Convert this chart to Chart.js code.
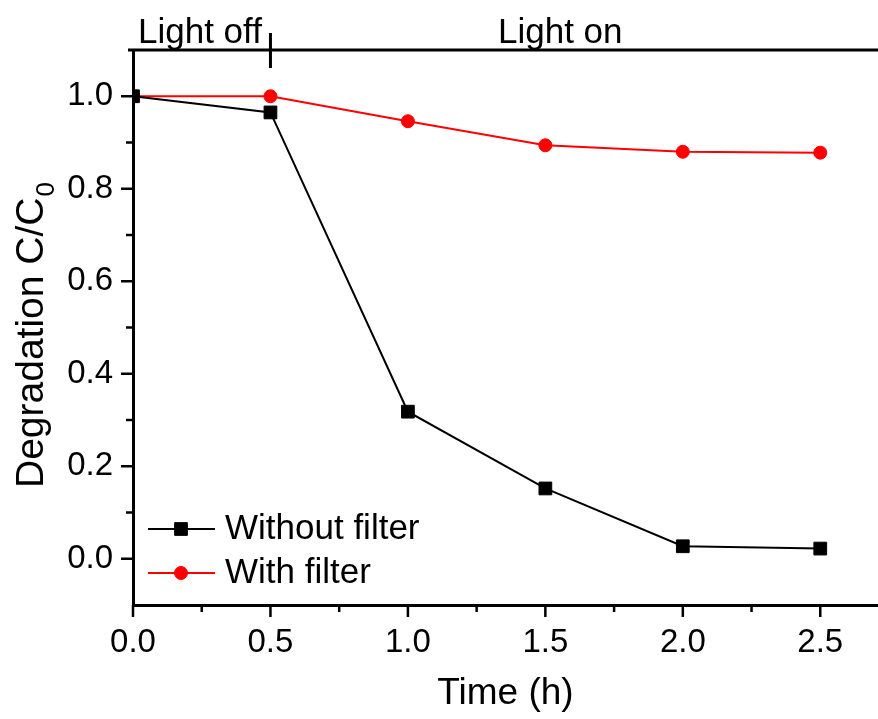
<!DOCTYPE html>
<html>
<head>
<meta charset="utf-8">
<script src="https://cdn.jsdelivr.net/npm/chart.js@4.4.1/dist/chart.umd.min.js"></script>
<style>
  html, body { margin: 0; padding: 0; background: #fff; }
</style>
</head>
<body>
<canvas id="chart" width="878" height="719"></canvas>
<script>
// data
var times = [0, 0.5, 1.0, 1.5, 2.0, 2.5];
var withoutFilter = [1.0, 0.965, 0.318, 0.152, 0.027, 0.022];
var withFilter = [1.0, 1.0, 0.946, 0.894, 0.880, 0.878];
var seriesNames = ['Without filter', 'With filter'];
var xTicks = [0, 0.5, 1.0, 1.5, 2.0, 2.5];
var yTicks = [0, 0.2, 0.4, 0.6, 0.8, 1.0];
var phaseLabels = ['Light off', 'Light on'];
var lightSwitch = 0.5;

var FONT = '"Liberation Sans", Arial, sans-serif';

function toPoints(ys) {
    return times.map(function (t, i) { return { x: t, y: ys[i] }; });
}

var decor = {
    id: 'decor',
    afterDraw: function (chart) {
        var ctx = chart.ctx;
        var area = chart.chartArea;
        var xs = chart.scales.x, ys = chart.scales.y;
        var i, p;
        ctx.save();
        ctx.strokeStyle = '#000';
        ctx.fillStyle = '#000';
        ctx.lineWidth = 2.5;

        // x ticks (major + minor), outward
        for (i = 0; i < xTicks.length; i++) {
            p = xs.getPixelForValue(xTicks[i]);
            ctx.beginPath(); ctx.moveTo(p, area.bottom); ctx.lineTo(p, area.bottom + 12); ctx.stroke();
            var m = xTicks[i] + 0.25;
            if (m < xs.max) {
                p = xs.getPixelForValue(m);
                ctx.beginPath(); ctx.moveTo(p, area.bottom); ctx.lineTo(p, area.bottom + 7); ctx.stroke();
            }
        }
        // y ticks
        for (i = 0; i < yTicks.length; i++) {
            p = ys.getPixelForValue(yTicks[i]);
            ctx.beginPath(); ctx.moveTo(area.left, p); ctx.lineTo(area.left - 12, p); ctx.stroke();
            var n = yTicks[i] + 0.1;
            if (n < ys.max - 0.01) {
                p = ys.getPixelForValue(n);
                ctx.beginPath(); ctx.moveTo(area.left, p); ctx.lineTo(area.left - 7, p); ctx.stroke();
            }
        }

        // top line with light switch marker
        ctx.lineWidth = 3;
        ctx.beginPath(); ctx.moveTo(area.left - 5, area.top); ctx.lineTo(chart.width, area.top); ctx.stroke();
        p = xs.getPixelForValue(lightSwitch);
        ctx.beginPath(); ctx.moveTo(p, area.top - 17); ctx.lineTo(p, area.top + 18); ctx.stroke();

        ctx.font = '35px ' + FONT;
        ctx.textBaseline = 'alphabetic';
        ctx.textAlign = 'left';
        ctx.fillText(phaseLabels[0], 138, 43);
        ctx.fillText(phaseLabels[1], 498, 43);

        // y axis title with subscript
        ctx.save();
        ctx.translate(43, 488);
        ctx.rotate(-Math.PI / 2);
        ctx.font = '39px ' + FONT;
        var main = 'Degradation C/C';
        ctx.fillText(main, 0, 0);
        var w = ctx.measureText(main).width;
        ctx.font = '26px ' + FONT;
        ctx.fillText('0', w + 1, 11);
        ctx.restore();

        // legend inside plot
        var rows = [529, 573];
        chart.data.datasets.forEach(function (ds, k) {
            var y = rows[k];
            ctx.strokeStyle = ds.borderColor;
            ctx.lineWidth = 2;
            ctx.beginPath(); ctx.moveTo(148, y); ctx.lineTo(215, y); ctx.stroke();
            ctx.fillStyle = ds.pointBackgroundColor;
            ctx.strokeStyle = ds.pointBorderColor;
            ctx.lineWidth = 1;
            ctx.beginPath();
            if (ds.pointStyle === 'rect') {
                var s = ds.pointRadius * Math.SQRT1_2;
                ctx.rect(181 - s, y - s, 2 * s, 2 * s);
            } else {
                ctx.arc(181, y, ds.pointRadius, 0, Math.PI * 2);
            }
            ctx.fill(); ctx.stroke();
            ctx.fillStyle = '#000';
            ctx.font = '35px ' + FONT;
            ctx.textBaseline = 'middle';
            ctx.fillText(seriesNames[k], 225, y);
        });
        ctx.restore();
    }
};

var config = {
    type: 'line',
    data: {
        datasets: [{
            label: seriesNames[0],
            data: toPoints(withoutFilter),
            borderColor: '#000000',
            backgroundColor: '#000000',
            pointBackgroundColor: '#000000',
            pointBorderColor: '#000000',
            borderWidth: 2,
            pointStyle: 'rect',
            pointRadius: 9,
            pointBorderWidth: 1,
            clip: 0
        }, {
            label: seriesNames[1],
            data: toPoints(withFilter),
            borderColor: '#ff0000',
            backgroundColor: '#ff0000',
            pointBackgroundColor: '#ff0000',
            pointBorderColor: '#ff0000',
            borderWidth: 2,
            pointStyle: 'circle',
            pointRadius: 6.5,
            pointBorderWidth: 1,
            clip: 0
        }]
    },
    options: {
        responsive: false,
        animation: false,
        // autoPadding off so point radius doesn't shrink the plot area
        layout: { autoPadding: false, padding: { top: 50, right: 0, left: 0, bottom: 0 } },
        plugins: {
            legend: { display: false },
            tooltip: { enabled: false }
        },
        scales: {
            x: {
                type: 'linear',
                min: 0,
                max: 2.71,
                afterBuildTicks: function (scale) {
                    scale.ticks = xTicks.map(function (v) { return { value: v }; });
                },
                afterFit: function (scale) {
                    scale.height = 114;
                    scale.paddingRight = 0;
                    scale.paddingLeft = 0;
                },
                grid: { drawOnChartArea: false, drawTicks: false },
                border: { color: '#000', width: 3 },
                ticks: {
                    color: '#000',
                    font: { family: FONT, size: 33 },
                    padding: 18,
                    maxRotation: 0,
                    callback: function (v) { return v.toFixed(1); }
                },
                title: {
                    display: true,
                    text: 'Time (h)',
                    color: '#000',
                    font: { family: FONT, size: 37 },
                    padding: { top: 0, bottom: 3 }
                }
            },
            y: {
                min: -0.1,
                max: 1.1,
                afterBuildTicks: function (scale) {
                    scale.ticks = yTicks.map(function (v) { return { value: v }; });
                },
                afterFit: function (scale) {
                    scale.width = 133;
                    scale.paddingTop = 0;
                    scale.paddingBottom = 0;
                },
                grid: { drawOnChartArea: false, drawTicks: false },
                border: { color: '#000', width: 3 },
                ticks: {
                    color: '#000',
                    font: { family: FONT, size: 33 },
                    padding: 20,
                    callback: function (v) { return v.toFixed(1); }
                }
            }
        }
    },
    plugins: [decor]
};

window.onload = function () {
    var ctx = document.getElementById('chart').getContext('2d');
    window.myChart = new Chart(ctx, config);
};
</script>
</body>
</html>
